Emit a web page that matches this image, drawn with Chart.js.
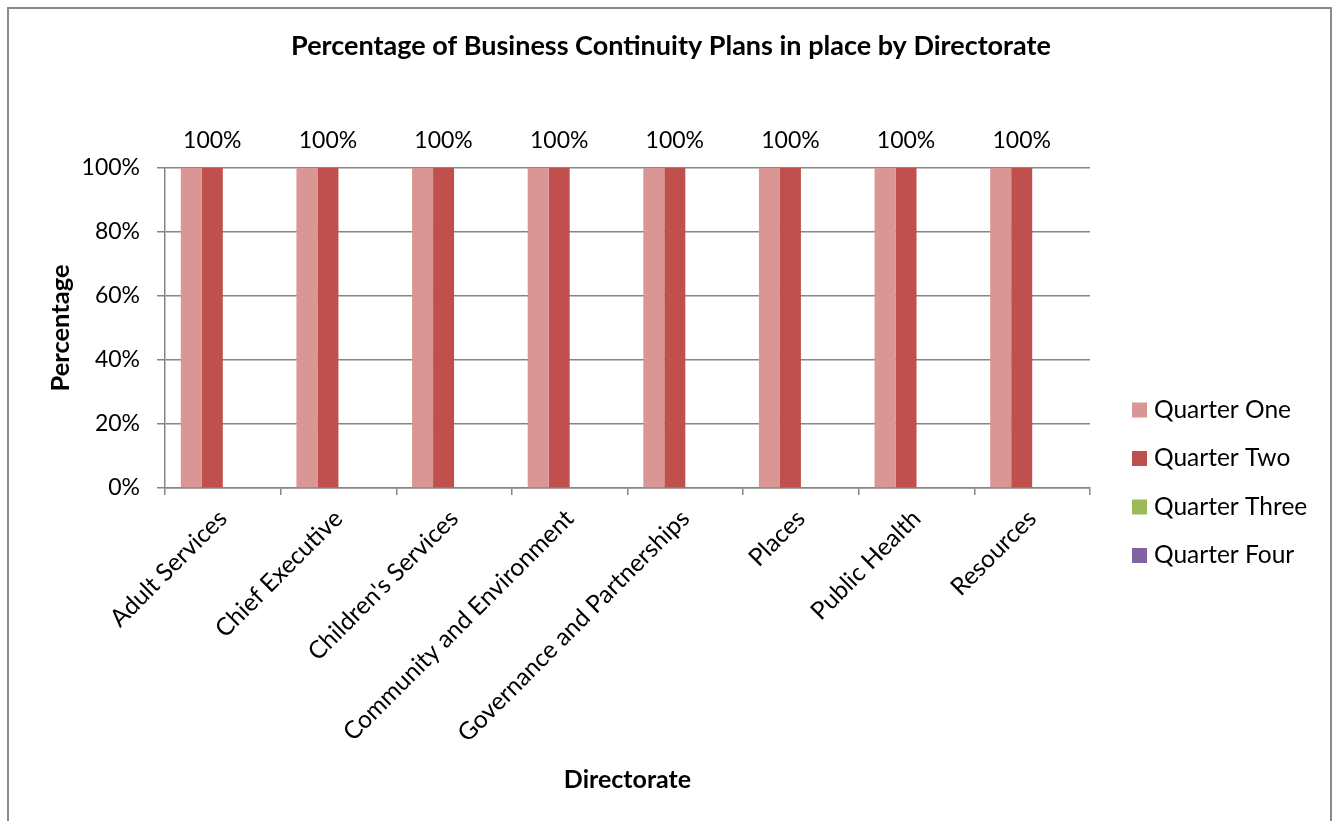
<!DOCTYPE html>
<html>
<head>
<meta charset="utf-8">
<script src="https://cdn.jsdelivr.net/npm/chart.js@4.4.1/dist/chart.umd.min.js"></script>
<style>
  html, body { margin: 0; padding: 0; background: #fff; }
  #wrap { position: relative; width: 1342px; height: 821px; overflow: hidden; }
  #frame { position: absolute; left: 7px; top: 7px; width: 1325px; height: 840px; border: 2px solid #8a8a8a; box-sizing: border-box; }
  canvas { position: absolute; left: 0; top: 0; }
</style>
</head>
<body>
<div id="wrap">
  <div id="frame"></div>
  <canvas id="c" width="1342" height="821"></canvas>
</div>
<script>
const categories = ["Adult Services", "Chief Executive", "Children's Services", "Community and Environment", "Governance and Partnerships", "Places", "Public Health", "Resources"];
const seriesNames = ["Quarter One", "Quarter Two", "Quarter Three", "Quarter Four"];
const quarterOne = [100, 100, 100, 100, 100, 100, 100, 100];
const quarterTwo = [100, 100, 100, 100, 100, 100, 100, 100];
const quarterThree = [null, null, null, null, null, null, null, null];
const quarterFour = [null, null, null, null, null, null, null, null];
const yTicks = [0, 20, 40, 60, 80, 100];
const seriesColors = ["#D99694", "#C0504D", "#9BBB59", "#8064A2"];
const chartTitle = "Percentage of Business Continuity Plans in place by Directorate";
const yTitle = "Percentage";
const xTitle = "Directorate";

const FONT = "Lato";
const GRID = "#868686";

const titlePlugin = {
  id: "titleText",
  afterDraw(chart) {
    const ctx = chart.ctx;
    ctx.save();
    ctx.font = "bold 27px " + FONT;
    ctx.fillStyle = "#000";
    ctx.textAlign = "center";
    ctx.textBaseline = "middle";
    ctx.fillText(chartTitle, chart.width / 2, 46);
    ctx.restore();
  }
};

const legendPlugin = {
  id: "sideLegend",
  afterDraw(chart) {
    const ctx = chart.ctx;
    ctx.save();
    ctx.font = "24.5px " + FONT;
    ctx.textBaseline = "middle";
    ctx.textAlign = "left";
    chart.data.datasets.forEach((ds, i) => {
      const cy = 410 + i * 48.5;
      ctx.fillStyle = ds.backgroundColor;
      ctx.fillRect(1132, cy - 7.5, 15, 15);
      ctx.fillStyle = "#000";
      ctx.fillText(ds.label, 1154, cy);
    });
    ctx.restore();
  }
};

const labelPlugin = {
  id: "barLabels",
  afterDatasetsDraw(chart) {
    const ctx = chart.ctx;
    const meta = chart.getDatasetMeta(1);
    const ds = chart.data.datasets[1];
    ctx.save();
    ctx.font = "23px " + FONT;
    ctx.fillStyle = "#000";
    ctx.textAlign = "center";
    ctx.textBaseline = "middle";
    meta.data.forEach((bar, i) => {
      const v = ds.data[i];
      if (v == null) return;
      ctx.fillText(v + "%", bar.x, bar.y - 27);
    });
    ctx.restore();
  }
};

const datasets = [quarterOne, quarterTwo, quarterThree, quarterFour].map((d, i) => ({
  label: seriesNames[i],
  data: d,
  backgroundColor: seriesColors[i],
  borderWidth: 0,
  categoryPercentage: 0.7265,
  barPercentage: 1.0
}));

new Chart(document.getElementById("c"), {
  type: "bar",
  data: { labels: categories, datasets },
  options: {
    responsive: false,
    animation: false,
    layout: { padding: { top: 168, right: 252, left: 0, bottom: 0 } },
    plugins: { legend: { display: false }, title: { display: false }, tooltip: { enabled: false } },
    scales: {
      x: {
        grid: { display: true, drawOnChartArea: false, offset: true, tickLength: 7, color: GRID, lineWidth: 1.5 },
        border: { display: true, color: GRID, width: 1.5 },
        ticks: { color: "#000", font: { family: FONT, size: 24.5 }, minRotation: 45, maxRotation: 45, padding: 9, autoSkip: false },
        title: { display: true, text: xTitle, color: "#000", font: { family: FONT, size: 25, weight: "bold" }, padding: { top: 0, bottom: 26 } },
        afterFit(scale) { scale.height = 333; }
      },
      y: {
        min: 0, max: 100,
        afterBuildTicks(scale) { scale.ticks = yTicks.map(v => ({ value: v })); },
        grid: { color: GRID, tickLength: 8, lineWidth: 1.5 },
        border: { display: true, color: GRID, width: 1.5 },
        ticks: { color: "#000", font: { family: FONT, size: 23 }, padding: 17, callback: v => v + "%" },
        title: { display: true, text: yTitle, color: "#000", font: { family: FONT, size: 25.5, weight: "bold" }, padding: { top: 45, bottom: 0 } },
        afterFit(scale) { scale.width = 165; }
      }
    }
  },
  plugins: [titlePlugin, legendPlugin, labelPlugin]
});
</script>
</body>
</html>
